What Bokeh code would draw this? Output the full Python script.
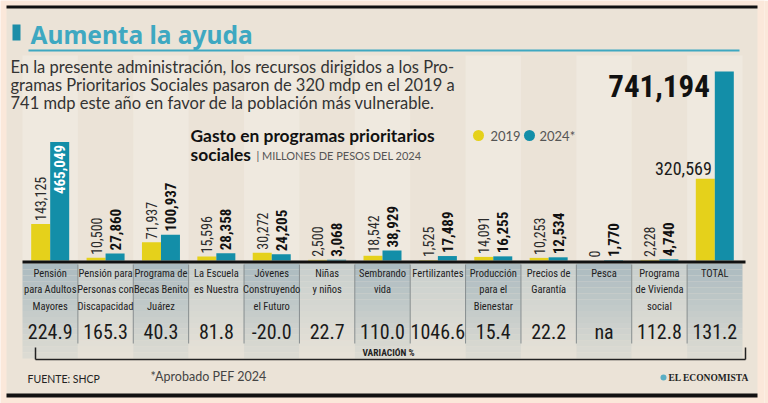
import numpy as np
from math import pi
from bokeh.plotting import figure
from bokeh.models import ColumnDataSource, FactorRange, Range1d
from bokeh.transform import dodge
from bokeh.core.properties import value
from bokeh.embed import file_html
from bokeh.resources import INLINE

# ---------------- data ----------------
categories = ["Pensión para Adultos Mayores", "Pensión para Personas con Discapacidad",
              "Programa de Becas Benito Juárez", "La Escuela es Nuestra",
              "Jóvenes Construyendo el Futuro", "Niñas y niños", "Sembrando vida",
              "Fertilizantes", "Producción para el Bienestar", "Precios de Garantía",
              "Pesca", "Programa de Vivienda social", "TOTAL"]
cat_labels = ["Pensión\npara Adultos\nMayores", "Pensión para\nPersonas con\nDiscapacidad",
              "Programa de\nBecas Benito\nJuárez", "La Escuela\nes Nuestra",
              "Jóvenes\nConstruyendo\nel Futuro", "Niñas\ny niños", "Sembrando\nvida",
              "Fertilizantes", "Producción\npara el\nBienestar", "Precios de\nGarantía",
              "Pesca", "Programa\nde Vivienda\nsocial", "TOTAL"]
v2019 = [143125, 10500, 71937, 15596, 30272, 2500, 18542, 1525, 14091, 10253, 0, 2228, 320569]
v2024 = [465049, 27860, 100937, 28358, 24205, 3068, 38929, 17489, 16255, 12534, 1770, 4740, 741194]
variation = ["224.9", "165.3", "40.3", "81.8", "-20.0", "22.7", "110.0", "1046.6",
             "15.4", "22.2", "na", "112.8", "131.2"]
series_names = ["2019", "2024*"]

# ---------------- style ----------------
BG = "#ebe3d7"
PEACH = "#fbe8da"
YEL = "#e5d11b"
TEAL = "#138ea8"
TITLE = "#3ea8c1"
NARROW = "Roboto Condensed, DejaVu Sans Condensed, Noto Sans Condensed, Liberation Sans Narrow, Roboto, sans-serif"
SANS = "Lato"

W, H = 768, 403
NCOL = len(categories)
XPX = 720 / NCOL                 # pixels per category
U = max(v2024) / 189.0           # data units per pixel
BW = 19 / XPX                    # bar width (category units)
def xd(wx): return (wx - 22) / XPX
def yd(wy): return (260 - wy) * U

p = figure(width=W, height=H,
           x_range=FactorRange(factors=categories, range_padding=22 / XPX,
                               range_padding_units="absolute"),
           y_range=Range1d(yd(403), yd(0)),
           output_backend="svg", toolbar_location=None,
           x_axis_location=None, y_axis_location=None,
           min_border_left=0, min_border_top=0, min_border_bottom=0, min_border_right=4)
p.grid.visible = False
p.outline_line_color = None
p.background_fill_color = PEACH
p.border_fill_color = PEACH

def hx(c):
    c = c.lstrip("#"); return [int(c[i:i + 2], 16) for i in (0, 2, 4)]
def mix(c1, c2, t):
    a, b = hx(c1), hx(c2)
    return "#%02x%02x%02x" % tuple(int(round(a[i] + (b[i] - a[i]) * t)) for i in range(3))

# panel
p.quad(left=[xd(6)], right=[xd(757)], top=[yd(8)], bottom=[yd(394)], fill_color=BG, line_color=None)
p.quad(left=[xd(6)], right=[xd(757)], top=[yd(5)], bottom=[yd(8)], fill_color="#111111", line_color=None)
p.quad(left=[xd(6)], right=[xd(757)], top=[yd(393)], bottom=[yd(397)], fill_color="#111111", line_color=None)

# background stripes in chart area
sl = [i for i in range(NCOL) if i % 2 == 0]
p.quad(left=sl, right=[i + 1 for i in sl], top=yd(55), bottom=yd(260),
       fill_color="#efe9df", line_color=None)

# gradient in label area
ql, qr, qt, qb, qc = [], [], [], [], []
steps = 16
y0, y1 = 263, 358
for i in range(NCOL):
    dark = i % 2 == 0
    c_top, c_bot = ("#acbbc0", "#dcdbd3") if dark else ("#c8cfcd", "#e6e1d7")
    for k in range(steps):
        a = y0 + (y1 - y0) * k / steps
        b = y0 + (y1 - y0) * (k + 1) / steps
        ql.append(i); qr.append(i + 1); qt.append(yd(a)); qb.append(yd(b))
        qc.append(mix(c_top, c_bot, k / (steps - 1)))
p.quad(left=ql, right=qr, top=qt, bottom=qb, fill_color=qc, line_color=None)

# separators
p.segment(x0=list(range(1, NCOL)), x1=list(range(1, NCOL)), y0=yd(264), y1=yd(343),
          line_color="#868d8f", line_width=1)

# bars
src = ColumnDataSource(dict(cat=categories, v19=v2019, v24=v2024, lab=cat_labels, var=variation,
                            t19=[f"{v:,}" for v in v2019], t24=[f"{v:,}" for v in v2024]))
p.vbar(x=dodge("cat", -BW / 2, range=p.x_range), top="v19", width=BW, source=src,
       fill_color=YEL, line_color=None)
p.vbar(x=dodge("cat", BW / 2, range=p.x_range), top="v24", width=BW, source=src,
       fill_color=TEAL, line_color=None)

# baseline
p.quad(left=[xd(22)], right=[xd(745)], top=[yd(260)], bottom=[yd(263)],
       fill_color="#111111", line_color=None)

# value labels for programs (rotated)
n = NCOL - 1
prog = dict(cat=categories[:n], v19=v2019[:n], v24=v2024[:n],
            t19=[f"{v:,}" for v in v2019[:n]], t24=[f"{v:,}" for v in v2024[:n]])
s19 = ColumnDataSource(prog)
p.text(x=dodge("cat", -BW / 2, range=p.x_range), y="v19", text="t19", source=s19,
       angle=pi / 2, y_offset=-3, text_align="left", text_baseline="middle",
       text_font=value(NARROW), text_font_size=value("14px"), text_color="#2a2a2a")
out = [i for i in range(n) if v2024[i] < 300000]
ins = [i for i in range(n) if v2024[i] >= 300000]
s24o = ColumnDataSource(dict(cat=[categories[i] for i in out], v=[v2024[i] for i in out],
                             t=[f"{v2024[i]:,}" for i in out]))
s24i = ColumnDataSource(dict(cat=[categories[i] for i in ins], v=[v2024[i] for i in ins],
                             t=[f"{v2024[i]:,}" for i in ins]))
p.text(x=dodge("cat", BW / 2, range=p.x_range), y="v", text="t", source=s24o,
       angle=pi / 2, y_offset=-3, text_align="left", text_baseline="middle",
       text_font=value(NARROW), text_font_style="bold", text_font_size=value("15px"),
       text_color="#111111")
p.text(x=dodge("cat", BW / 2, range=p.x_range), y="v", text="t", source=s24i,
       angle=pi / 2, y_offset=3, text_align="right", text_baseline="middle",
       text_font=value(NARROW), text_font_style="bold", text_font_size=value("15px"),
       text_color="white")

# TOTAL labels (horizontal)
p.text(x=[categories[-1]], y=[v2024[-1]], text=[f"{v2024[-1]:,}"], x_offset=-5, y_offset=14,
       text_align="right", text_baseline="middle", text_font=value(NARROW),
       text_font_style="bold", text_font_size=value("31px"), text_color="#111111")
p.text(x=[categories[-1]], y=[v2019[-1]], text=[f"{v2019[-1]:,}"], x_offset=-3, y_offset=-4,
       text_align="right", text_baseline="bottom", text_font=value(NARROW),
       text_font_size=value("18px"), text_color="#1a1a1a")

# category labels and variation
p.text(x="cat", y=yd(266), text="lab", source=src, text_align="center", text_baseline="top",
       text_font=value(NARROW), text_font_size=value("10.5px"), text_line_height=1.3,
       text_color="#222222")
p.text(x="cat", y=yd(331), text="var", source=src, text_align="center", text_baseline="middle",
       text_font=value(NARROW), text_font_size=value("20px"), text_color="#1a1a1a")

# variation bracket
p.segment(x0=[xd(35), xd(35), xd(745)], x1=[xd(745), xd(35), xd(745)],
          y0=[yd(359), yd(347), yd(347)], y1=[yd(359), yd(359), yd(359)],
          line_color="#222222", line_width=1.5)

def txt(wx, wy, s, size, color="#222222", font=SANS, style="normal", align="left",
        baseline="middle"):
    p.text(x=[xd(wx)], y=[yd(wy)], text=[s], text_font=value(font),
           text_font_size=value(f"{size}px"), text_font_style=style, text_color=color,
           text_align=align, text_baseline=baseline)

txt(388, 352, "VARIACIÓN %", 9.5, "#222222", NARROW, "bold", "center")

# title decorations
p.quad(left=[xd(12)], right=[xd(20)], top=[yd(24)], bottom=[yd(40)], fill_color="#1d8ea8", line_color=None)
p.segment(x0=[xd(28)], x1=[xd(739)], y0=[yd(50)], y1=[yd(50)], line_color=TITLE, line_width=2)

# titles
txt(30, 34, "Aumenta la ayuda", 24.5, TITLE, "Noto Sans", "bold")
txt(10, 66, "En la presente administración, los recursos dirigidos a los Pro-", 16.5, "#333333")
txt(10, 84, "gramas Prioritarios Sociales pasaron de 320 mdp en el 2019 a", 16.5, "#333333")
txt(10, 102, "741 mdp este año en favor de la población más vulnerable.", 16.5, "#333333")
txt(190, 135, "Gasto en programas prioritarios", 17.4, "#111111", SANS, "bold")
txt(190, 154, "sociales", 17.4, "#111111", SANS, "bold")
txt(256, 155, "| MILLONES DE PESOS DEL 2024", 11, "#555555")

# legend
p.scatter(x=[xd(478), xd(529)], y=[yd(135), yd(135)], size=11, fill_color=[YEL, TEAL], line_color=None)
txt(490, 135, series_names[0], 13, "#555555")
txt(539, 135, series_names[1], 13, "#555555")

# footer
txt(27, 378, "FUENTE: SHCP", 10.5, "#222222")
txt(150, 376, "*Aprobado PEF 2024", 12.5, "#444444")
p.scatter(x=[xd(663)], y=[yd(377)], size=6, fill_color="#5aaec4", line_color=None)
txt(668, 377, "EL ECONOMISTA", 9.5, "#222222", "Liberation Serif", "bold")

html = file_html(p, INLINE)
html = html.replace("<body>", '<body style="background-color:%s;">' % PEACH, 1)
open("out.html", "w").write(html)
